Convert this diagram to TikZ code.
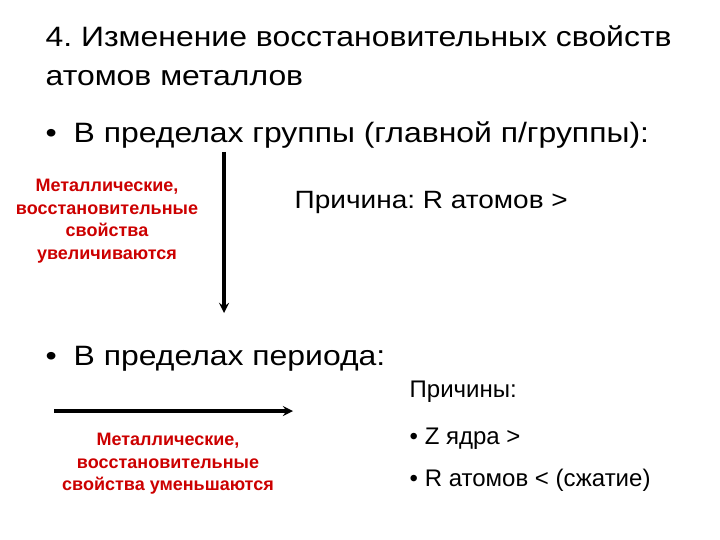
\documentclass[tikz,border=0pt]{standalone}
\usepackage{fontspec}
\setmainfont{Liberation Sans}
\newfontfamily\breit[FakeStretch=1.14]{Liberation Sans}
\newfontfamily\halbbreit[FakeStretch=1.12]{Liberation Sans}
\usetikzlibrary{arrows}

\definecolor{rotmet}{RGB}{204,0,0}
\newcommand{\punkt}{\makebox[28pt][l]{•}}
\frenchspacing

\begin{document}
\begin{tikzpicture}[x=1pt, y=-1pt, >=stealth, line width=3.4pt,
    titel/.style={anchor=base west, inner sep=0pt, font=\breit\fontsize{28}{34}\selectfont},
    grund/.style={anchor=base west, inner sep=0pt, font=\fontsize{24}{28}\selectfont},
    rottext/.style={align=center, inner sep=0pt, text=rotmet,
        font=\fontsize{18}{22.5}\selectfont\bfseries}]

    % Rahmen der Folie
    \useasboundingbox (0,0) rectangle (720,540);

    % Überschrift
    \node[titel] (kopf1) at (44,47) {4. Изменение восстановительных свойств};
    \node[titel] (kopf2) at (44,86) {атомов металлов};

    % Gruppe: von oben nach unten
    \node[titel] (gruppe) at (44,143) {\punkt В пределах группы (главной п/группы):};
    \coordinate (g1) at (224,152);
    \coordinate (g2) at (224,313);
    \draw[->] (g1) -- (g2);
    \node[rottext] (wachs) at (107,221) {Металлические,\\восстановительные\\свойства\\увеличиваются};
    \node[grund, font=\halbbreit\fontsize{25}{30}\selectfont] (grund1) at (293,208) {Причина: R атомов >};

    % Periode: von links nach rechts
    \node[titel] (periode) at (44,365) {\punkt В пределах периода:};
    \coordinate (p1) at (54,411);
    \coordinate (p2) at (293,411);
    \draw[->] (p1) -- (p2);
    \node[rottext] (fall) at (168,464) {Металлические,\\восстановительные\\свойства уменьшаются};

    % Gründe
    \node[grund] (gruende) at (408,397) {Причины:};
    \node[grund] (grundz) at (408,444) {• Z ядра >};
    \node[grund] (grundr) at (408,486) {• R атомов < (сжатие)};

\end{tikzpicture}
\end{document}
